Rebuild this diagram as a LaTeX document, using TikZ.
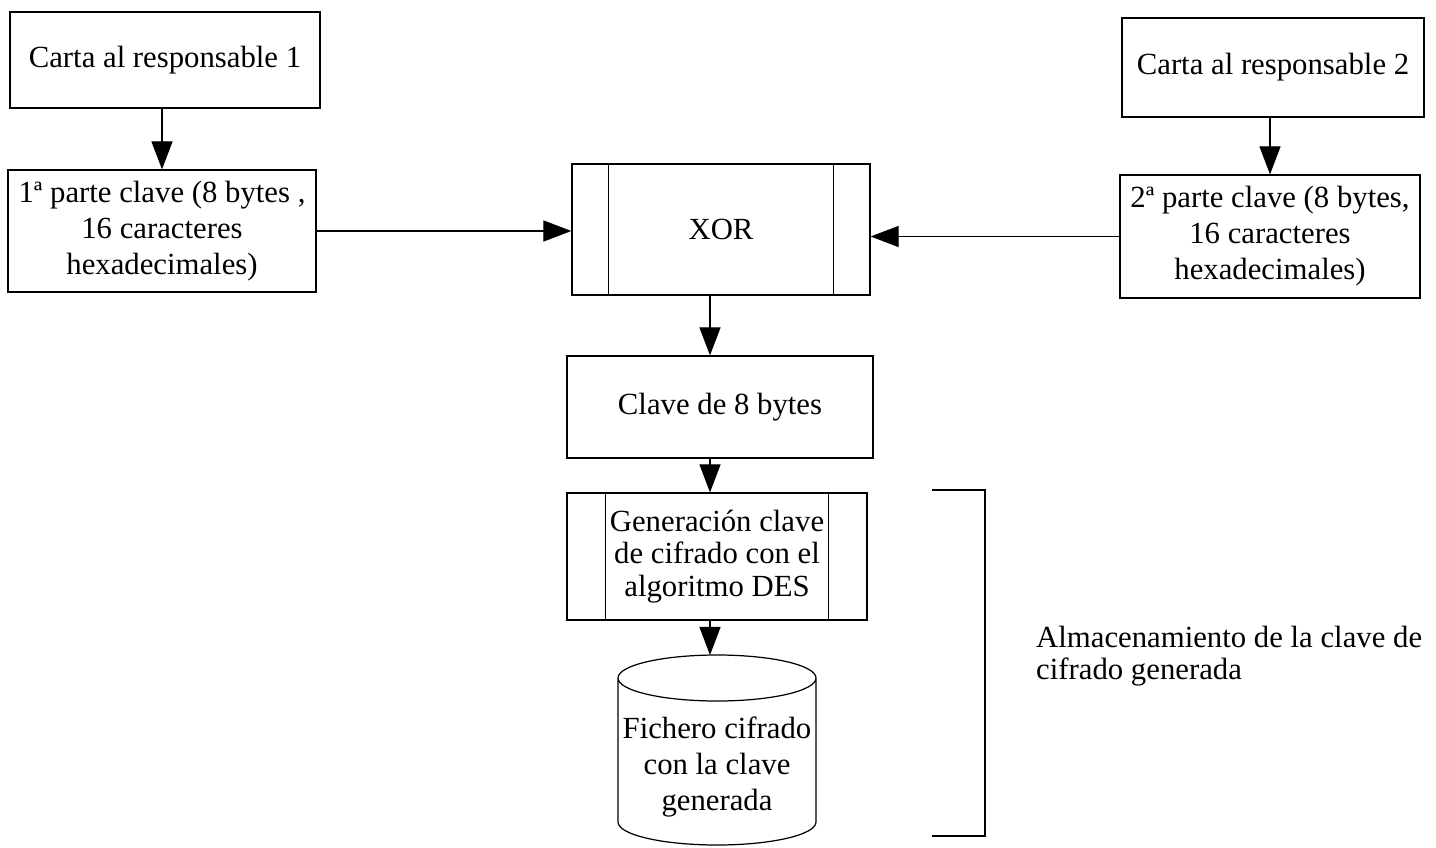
\documentclass[tikz,border=0pt]{standalone}
\usepackage{fontspec}
\setmainfont{Liberation Serif}
\usetikzlibrary{arrows.meta}

\begin{document}
\begin{tikzpicture}[x=0.02cm,y=-0.02cm,
  box/.style={draw, line width=0.7pt, align=center, inner sep=0pt,
    font=\fontsize{17.5}{20.5}\selectfont},
  arr/.style={line width=0.7pt, -{Triangle[length=16pt,width=12pt]}}]

\useasboundingbox (0,0) rectangle (1436,848);

% Boxes
\node[box, minimum width=6.2cm,  minimum height=1.92cm] (carta1) at (165,60)    {Carta al responsable 1};
\node[box, minimum width=6.16cm, minimum height=2.44cm] (parte1) at (162,231)   {1ª parte clave (8 bytes ,\\16 caracteres\\hexadecimales)};
\node[box, minimum width=6.04cm, minimum height=1.98cm] (carta2) at (1273,67.5) {Carta al responsable 2};
\node[box, minimum width=6.0cm,  minimum height=2.46cm] (parte2) at (1270,236.5){2ª parte clave (8 bytes,\\16 caracteres\\hexadecimales)};
\node[box, minimum width=5.96cm, minimum height=2.62cm] (xor)    at (721,229.5) {XOR};
\node[box, minimum width=6.12cm, minimum height=2.04cm] (clave)  at (720,407)   {Clave de 8 bytes};
\node[box, minimum width=6.0cm,  minimum height=2.54cm,
      font=\fontsize{17.5}{18.5}\selectfont] (gen) at (717,556.5) {Generación clave\\de cifrado con el\\algoritmo DES};

% side bars of the process boxes
\foreach \n/\d in {xor/0.74cm, gen/0.78cm} {
  \draw[line width=0.7pt] ([xshift=\d]\n.north west) -- ([xshift=\d]\n.south west);
  \draw[line width=0.7pt] ([xshift=-\d]\n.north east) -- ([xshift=-\d]\n.south east);
}

% Cylinder (file)
\node[align=center, font=\fontsize{17.5}{20.5}\selectfont] (fich) at (717,767) {Fichero cifrado\\con la clave\\generada};
\coordinate (fichtop) at (717,655);
\draw[line width=0.7pt] (618,678) -- (618,822)
  arc[start angle=180, end angle=360, x radius=99, y radius=-23] -- (816,678)
  arc[start angle=0, end angle=360, x radius=99, y radius=-23];

% Connectors
\coordinate (spine) at (710,0);
\draw[arr] (carta1.south -| parte1.north) -- (parte1.north);
\draw[arr] (carta2.south -| parte2.north) -- (parte2.north);
\draw[arr] (parte1.east) -- (parte1.east -| xor.west);
\draw[arr] (parte2.west) -- (parte2.west -| xor.east);
\draw[arr] (xor.south -| spine) -- (clave.north -| spine);
\draw[arr] (clave.south -| spine) -- (gen.north -| spine);
\draw[arr] (gen.south -| spine) -- (fichtop -| spine);

% Bracket and note
\draw[line width=0.7pt] (932,490) -- (985,490) -- (985,836) -- (932,836);
\node[anchor=west, align=left, font=\fontsize{17.5}{18.5}\selectfont] (almac) at (1030,656)
  {Almacenamiento de la clave de\\cifrado generada};

\end{tikzpicture}
\end{document}
